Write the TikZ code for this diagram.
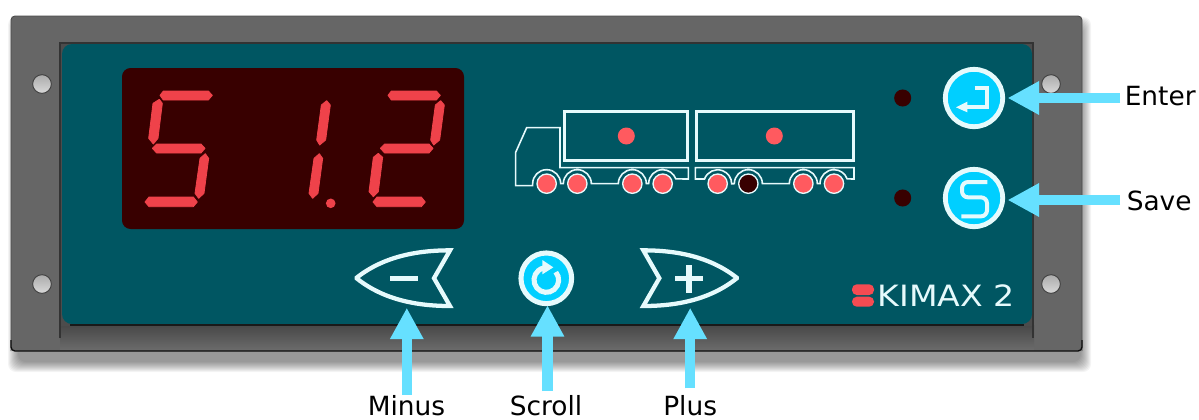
\documentclass[tikz,border=0pt]{standalone}
\usepackage{fontspec}
\setmainfont{DejaVu Sans}
\usetikzlibrary{arrows.meta}
\definecolor{framec}{HTML}{666666}
\definecolor{panelc}{HTML}{005662}
\definecolor{dispc}{HTML}{380000}
\definecolor{segc}{HTML}{EF424A}
\definecolor{ledc}{HTML}{FF5A5F}
\definecolor{cyanc}{HTML}{00CFFF}
\definecolor{ringc}{HTML}{E6FAFC}
\definecolor{arrowc}{HTML}{66E0FF}
\tikzset{
  segfill/.style={fill=segc,draw=segc,line width=.6pt,line join=round},
  hole/.style={circle,draw=black!75,line width=.7pt,top color=black!33,bottom color=black!15,minimum size=14pt,inner sep=0},
  led/.style={circle,fill=dispc,minimum size=12.8pt,inner sep=0},
  roundbtn/.style={circle,fill=cyanc,draw=ringc,line width=3.6pt,minimum size=43pt,inner sep=0,outer sep=3.7pt},
  wheel/.style={fill=ledc,draw=ringc,line width=1pt},
  truckline/.style={draw=ringc,line width=1.2pt,line join=miter},
  trailer/.style={draw=ringc,line width=2.2pt},
  glyph/.style={draw=ringc,line width=3pt},
  callout/.style={draw=arrowc,line width=7.8pt,-{Triangle[length=23.6pt,width=23.6pt,fill=arrowc]}},
  lbl/.style={font=\fontsize{19.8pt}{22pt}\selectfont,text=black,inner sep=0,anchor=base west},
  emptybox/.style={inner sep=0,outer sep=0}
}
\newcommand\segA{(180,136)--(190,123)--(325,123)--(337,136)--(325,150)--(190,150)--cycle}
\newcommand\segF{(178,148)--(187,160)--(174,265)--(160,282)--(146,265)--(159,160)--cycle}
\newcommand\segG{(157,295)--(170,282)--(303,282)--(315,295)--(303,309)--(170,309)--cycle}
\newcommand\segB{(338,152)--(349,165)--(335,270)--(317,285)--(308,270)--(322,165)--cycle}
\newcommand\segE{(151,310)--(164,322)--(151,425)--(136,440)--(123,425)--(136,322)--cycle}
\newcommand\segC{(316,311)--(326,325)--(312,430)--(296,445)--(285,430)--(300,325)--cycle}
\newcommand\segD{(135,456)--(147,441)--(280,441)--(292,456)--(280,470)--(147,470)--cycle}
\begin{document}
\begin{tikzpicture}[x=.75pt,y=-.75pt]
\useasboundingbox (0,0) rectangle (1199,419);
\fill[white] (0,0) rectangle (1199,419);
% shadow
\foreach \e in {0,...,10}{
  \fill[black,opacity=.045,rounded corners=6pt] (18-\e,27-\e) rectangle (1081+\e,362+\e);
}
% frame
\fill[framec,rounded corners=3pt] (11,16) rectangle (1082,351);
\shade[top color=black!72,bottom color=black!58] (60,325) rectangle (1034,350);
\draw[black!70,line width=.7pt,rounded corners=3pt] (11,351) -- (11,16) -- (1082,16) -- (1082,351);
\draw[black!95,line width=1pt,rounded corners=3pt] (11,340) -- (11,351) -- (1082,351) -- (1082,340);
\fill[black!70] (60,43) rectangle (1034,326);
\draw[black!80,line width=.9pt] (60,338) -- (60,43) -- (1033,43) -- (1033,338);
\fill[panelc,rounded corners=7.5pt] (62,44) rectangle (1032,324);
\draw[black!90,line width=1pt] (70,325) -- (1024,325);
% holes
\node[hole] (h1) at (42,84) {};
\node[hole] (h2) at (42,284) {};
\node[hole] (h3) at (1051,84) {};
\node[hole] (h4) at (1051,284) {};
% display
\fill[dispc,rounded corners=6.5pt] (122,68) rectangle (464,229);
\begin{scope}[shift={(100,50)},x=.25pt,y=-.25pt]
  \filldraw[segfill] \segA; \filldraw[segfill] \segF; \filldraw[segfill] \segG; \filldraw[segfill] \segC; \filldraw[segfill] \segD;
\end{scope}
\begin{scope}[shift={(214,50)},x=.25pt,y=-.25pt]
  \filldraw[segfill] \segB; \filldraw[segfill] \segC;
\end{scope}
\fill[segc] (330.7,203.3) circle[radius=4.8];
\begin{scope}[shift={(328,50)},x=.25pt,y=-.25pt]
  \filldraw[segfill] \segA; \filldraw[segfill] \segB; \filldraw[segfill] \segG; \filldraw[segfill] \segE; \filldraw[segfill] \segD;
\end{scope}
% truck
\begin{scope}[shift={(500,95)},x=.25pt,y=-.25pt]
  \draw[trailer] (194.5,48.5) rectangle (563.5,197.5);
  \draw[trailer] (589.5,48.5) rectangle (1059.5,197.5);
  \fill[ledc] (379,123) circle[radius=25.5];
  \fill[ledc] (823,123) circle[radius=25.5];
  \draw[truckline] (180,98) -- (80,98) -- (47,172) -- (47,272) -- (98,272) -- (98,266)
     arc[start angle=180,end angle=360,radius=42] -- (190,266)
     arc[start angle=180,end angle=360,radius=42] -- (355,266)
     arc[start angle=180,end angle=360,radius=42] -- (446,266)
     arc[start angle=180,end angle=340,radius=42] -- (565,252) -- (565,218) -- (180,218) -- cycle;
  \draw[truckline] (586,218) -- (586,252) -- (613.5,252)
     arc[start angle=200,end angle=360,radius=42] -- (703,266)
     arc[start angle=180,end angle=360,radius=42] -- (868,266)
     arc[start angle=180,end angle=360,radius=42] -- (960,266)
     arc[start angle=180,end angle=340,radius=42] -- (1062,252) -- (1062,218) -- cycle;
  \foreach \wx in {140,232,397,488,653,910,1002}{
    \filldraw[wheel] (\wx,266) circle[radius=29];
  }
  \filldraw[wheel,fill=dispc] (745,266) circle[radius=29];
\end{scope}
% LEDs
\node[led] (led1) at (902.7,98) {};
\node[led] (led2) at (902.7,198) {};
% enter / save buttons
\node[roundbtn] (enterBtn) at (974,98) {};
\node[roundbtn] (saveBtn) at (974,198) {};
\begin{scope}[shift={(880,60)},x=.25pt,y=-.25pt]
  \draw[glyph,line join=miter] (284,85) -- (322,85) -- (322,141) -- (255,141);
  \fill[ringc] (228,142) -- (262,125) -- (262,157) -- cycle;
  \draw[glyph,rounded corners=4.5pt] (322,366) -- (246,366) -- (246,412) -- (321,412) -- (321,469) -- (244,469);
\end{scope}
% minus / scroll / plus
\node[emptybox,minimum width=72pt,minimum height=43.4pt] (minusBtn) at (404,278.8) {};
\node[emptybox,minimum width=72pt,minimum height=43.4pt] (plusBtn) at (689,278.8) {};
\node[circle,fill=cyanc,draw=ringc,line width=3.8pt,minimum size=38pt,inner sep=0,outer sep=1.2pt] (scrollBtn) at (546.3,278.3) {};
\begin{scope}[shift={(340,235)},x=.25pt,y=-.25pt]
  \draw[ringc,line width=3.2pt,line join=miter] (50,128) .. controls (130,65) and (230,46) .. (330,46) -- (282,129.5) -- (330,213) .. controls (230,213) and (130,194) .. (50,130) -- cycle;
  \fill[ringc] (150,122) rectangle (235,139);
  \draw[ringc,line width=3.2pt,line join=miter] (1190,128) .. controls (1110,65) and (1010,46) .. (910,46) -- (958,129.5) -- (910,213) .. controls (1010,213) and (1110,194) .. (1190,130) -- cycle;
  \fill[ringc] (1004,122.5) rectangle (1090,139);
  \fill[ringc] (1039,89) rectangle (1056,173);
  \draw[ringc,line width=3.8pt] (619,135) ++(-40:37) arc[start angle=-40,end angle=258,radius=37];
  \fill[ringc] (607,75) -- (640,97) -- (607,118) -- cycle;
\end{scope}
% logo
\fill[segc!60!ledc,rounded corners=3.6pt] (852,284.3) rectangle (874,295);
\fill[segc!60!ledc,rounded corners=3.6pt] (852,296.7) rectangle (874,306.7);
\node[inner sep=0,anchor=base west,text=ringc,xscale=1.13,font=\fontsize{22pt}{24pt}\selectfont] (kimax) at (877.5,306.5) {KIMAX 2};
% labels and callouts
\node[lbl] (enterLbl) at (1124.5,105.3) {Enter};
\node[lbl] (saveLbl) at (1126.5,210) {Save};
\node[lbl] (minusLbl) at (367.5,415) {Minus};
\node[lbl] (scrollLbl) at (509.5,415) {Scroll};
\node[lbl] (plusLbl) at (663,415) {Plus};
\coordinate (enterTail) at (1120,98);
\coordinate (saveTail) at (1120,200);
\coordinate (minusTail) at (406.8,395);
\coordinate (scrollTail) at (547.5,391);
\coordinate (plusTail) at (690.2,388.3);
\draw[callout] (enterTail) -- (enterBtn.east |- enterTail);
\draw[callout] (saveTail) -- (saveBtn.east |- saveTail);
\draw[callout] (minusTail) -- (minusTail |- minusBtn.south);
\draw[callout] (scrollTail) -- (scrollTail |- scrollBtn.south);
\draw[callout] (plusTail) -- (plusTail |- plusBtn.south);
\end{tikzpicture}
\end{document}
